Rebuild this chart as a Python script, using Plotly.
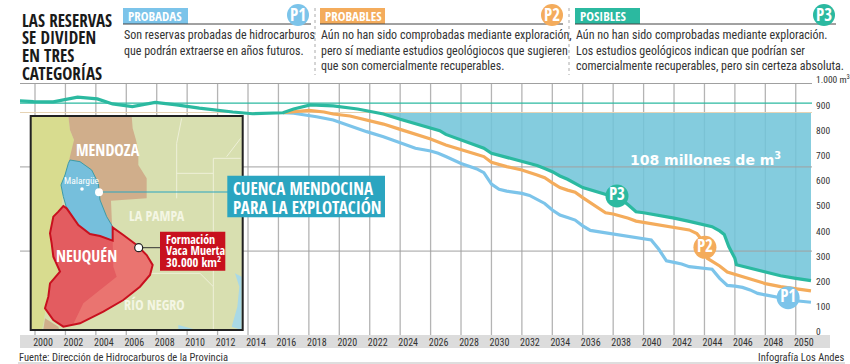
import plotly.graph_objects as go

# ---------- data ----------
p3_years = [1999,1999.9,2001.2,2002.8,2004.1,2005.1,2006.4,2007.9,2009.3,2010.8,2013,2014.3,2016.3,2017,2018.1,2019.6,2021.2,2022.9,
            2024,2026,2026.6,2027,2028,2029,2029.5,2030,2031,2032,2033,2033.5,2034,2034.5,2035,2036,2037,2037.5,2038.5,2039,2039.5,2040,2041,2042,2043,2044,2044.5,2045,2045.3,2045.6,2046,2046.1,2047,2048,2049,2050,2051]
p3_vals = [929,926,925,944,937,917,906,923,913,900,885,878,882,897,913,909,897,877,
           856,823,811,796,774,754,741,721,704,689,673,661,648,631,618,585,566,556,540,516,489,485,476,464,451,439,430,413,399,351,304,279,265,249,235,225,216]

p2_years = [2016.3,2017,2018,2019,2019.6,2020.7,2021.8,2022.9,
            2024,2025,2026,2027,2028,2029,2029.5,2030,2031,2032,2033,2033.5,2034,2034.5,2035,2035.5,2036,2037,2037.5,2038,2038.5,2039,2039.5,2040,2041,2042,2042.5,2043,2043.5,2044,2044.2,2045,2045.5,2046,2047,2048,2049,2050,2051]
p2_vals = [882,886,891,885,877,869,853,837,
           816,796,778,754,734,717,708,685,668,655,635,624,604,585,575,567,545,503,485,480,472,463,452,447,439,430,423,417,403,364,304,274,250,241,224,204,192,183,175]

p1_years = [2016.3,2017,2018.5,2019.6,2021.8,2022.9,
            2024,2025,2026,2026.5,2027,2028,2029,2029.5,2030,2030.5,2031,2032,2032.5,2033,2033.5,2034,2034.5,2035,2035.5,2036,2036.5,2037,2038,2039,2040,2040.5,2041,2041.5,2042,2042.5,2043,2043.5,2044,2044.5,2045,2045.5,2046,2046.5,2047,2047.5,2048,2049,2050,2051]
p1_vals = [882,880,866,853,807,787,
           763,741,730,721,708,681,660,644,599,578,571,562,554,538,522,496,476,466,456,433,415,410,401,390,384,377,340,294,288,282,271,267,265,261,225,197,194,189,179,165,159,146,136,130]

fill_start_year = 2022.4
fill_top_value = 883
ref_line_value = 920
h_grid_values = [333, 667, 998]

x_tick_years = list(range(2000, 2051, 2))
y_tick_vals = [0,100,200,300,400,500,600,700,800,900,1000]
y_tick_text = ["0","100","200","300","400","500","600","700","800","900","1.000 m<sup>3</sup>"]

bubble_labels = ["P1","P2","P3"]
bubble_years = [2049.5, 2044.03, 2038.25]
bubble_vals = [148, 348, 552]

C1, C2, C3 = "#7cc4ea", "#f4ac5c", "#2bb9a0"
FILL = "rgba(112,196,216,0.86)"
NARROW = "Roboto Condensed"
HEAVY = "Open Sans Condensed"

W, H = 850, 364
L, R, T, B = 20, 812, 83, 335
xr = [2000 + (L - 35) / 15.215, 2000 + (R - 35) / 15.215]

fx = lambda x: x / W
fy = lambda y: 1 - y / H

fig = go.Figure()

def hline(v, color, w):
    fig.add_trace(go.Scatter(x=xr, y=[v, v], mode="lines", line=dict(color=color, width=w), showlegend=False))

# vertical grid
for yr in x_tick_years:
    fig.add_trace(go.Scatter(x=[yr, yr], y=[0, 998], mode="lines", line=dict(color="#b4b4b4", width=1.3), showlegend=False))
hline(ref_line_value, C3, 1.2)

fig.add_trace(go.Scatter(
    x=[fill_start_year] + [y for y in p3_years if y > fill_start_year] + [p3_years[-1], fill_start_year],
    y=[fill_top_value] + [v for y, v in zip(p3_years, p3_vals) if y > fill_start_year] + [fill_top_value, fill_top_value],
    fill="toself", fillcolor=FILL, mode="lines", line=dict(width=0), showlegend=False))
hline(fill_top_value, "#e6d3b4", 1.2)
for v in h_grid_values:
    hline(v, "#a0a0a0", 1)

fig.add_trace(go.Scatter(x=p1_years, y=p1_vals, mode="lines", line=dict(color=C1, width=3.2), showlegend=False))
fig.add_trace(go.Scatter(x=p2_years, y=p2_vals, mode="lines", line=dict(color=C2, width=3.2), showlegend=False))
fig.add_trace(go.Scatter(x=p3_years, y=p3_vals, mode="lines", line=dict(color=C3, width=3.2), showlegend=False))
fig.add_trace(go.Scatter(
    x=bubble_years, y=bubble_vals, mode="markers+text", text=bubble_labels, textposition="middle center",
    textfont=dict(family=HEAVY, size=17, color="white"),
    marker=dict(size=23, color=[C1, C2, C3]), showlegend=False))

shapes, ann = [], []

def rect(x0, y0, x1, y1, fill, line=None, lw=0, layer="above"):
    shapes.append(dict(type="rect", xref="paper", yref="paper", x0=fx(x0), y0=fy(y0), x1=fx(x1), y1=fy(y1), fillcolor=fill,
                       line=dict(color=line or fill, width=lw), layer=layer))

def line(x0, y0, x1, y1, color, w=1, dash="solid", layer="above"):
    shapes.append(dict(type="line", xref="paper", yref="paper", x0=fx(x0), y0=fy(y0), x1=fx(x1), y1=fy(y1),
                       line=dict(color=color, width=w, dash=dash), layer=layer))

def circle(cx, cy, r, fill, outline=None, lw=0):
    shapes.append(dict(type="circle", xref="paper", yref="paper", x0=fx(cx-r), y0=fy(cy-r), x1=fx(cx+r), y1=fy(cy+r),
                       fillcolor=fill, line=dict(color=outline or fill, width=lw), layer="above"))

def zpath(zpts, close):
    pts = [(fx(x/3), fy(110 + y/3)) for x, y in zpts]
    return "M" + " L".join(f"{x:.5f},{y:.5f}" for x, y in pts) + (" Z" if close else "")

def poly(zpts, fill, outline=None, lw=0):
    shapes.append(dict(type="path", xref="paper", yref="paper", path=zpath(zpts, True), fillcolor=fill,
                       line=dict(color=outline or fill, width=lw), layer="above"))

def zline(zpts, color="#eef0d8", w=1):
    shapes.append(dict(type="path", xref="paper", yref="paper", path=zpath(zpts, False),
                       line=dict(color=color, width=w), layer="above"))

def text(x, y, s, size=13, color="#222", family=NARROW, anchor="left"):
    ann.append(dict(xref="paper", yref="paper", x=fx(x), y=fy(y), text=s, showarrow=False, xanchor=anchor, yanchor="middle",
                    align=anchor, borderpad=0, font=dict(family=family, size=size, color=color)))

# tick band and rules
rect(L, B, 830, 348, "#dcdcdc", layer="below")
line(18, 363, 845, 363, "#bdbdbd", 1)

# header
for i, s in enumerate(["LAS RESERVAS", "SE DIVIDEN", "EN TRES", "CATEGORÍAS"]):
    text(21, 20 + i*17.7, s, size=17, color="#1a1a1a", family=HEAVY)

heads = [
    (123, 188, 311, 298, C1, "PROBADAS", "P1", ["Son reservas probadas de hidrocarburos", "que podrán extraerse en años futuros."]),
    (320, 385, 563, 552, C2, "PROBABLES", "P2", ["Aún no han sido comprobadas mediante exploración,", "pero sí mediante estudios geológiocos que sugieren", "que son comercialmente recuperables."]),
    (575, 640, 836, 824, C3, "POSIBLES", "P3", ["Aún no han sido comprobadas mediante exploración.", "Los estudios geológicos indican que podrían ser", "comercialmente recuperables, pero sin certeza absoluta."]),
]
for x0, x1, x2, cx, col, name, tag, lines in heads:
    rect(x0, 8, x1, 24, col)
    line(x0, 24, x2, 24, "#444", 1)
    circle(cx, 15, 11, col)
    text(x0 + 4, 16, name, size=13, color="white", family=HEAVY)
    text(cx, 15, tag, size=17, color="white", family=HEAVY, anchor="center")
    for i, s in enumerate(lines):
        text(x0, 35 + i*15.7, s, size=12, color="#333")
line(315, 8, 315, 75, "#aaa", 1, "dot")
line(569, 8, 569, 75, "#aaa", 1, "dot")

# map
rect(30.7, 116, 242.7, 330, "#d8dfb0")
poly([(92,18),(205,18),(210,60),(222,90),(215,150),(190,215),(185,290),(150,370),(160,440),(175,485),(145,550),(130,640),(125,660),(92,660)], "#d8dc8f")
poly([(205,18),(395,18),(398,55),(408,90),(415,120),(415,165),(440,205),(440,265),(333,272),(338,390),(220,300),(205,160),(222,90),(210,60)], "#d0ae8b")
poly([(130,660),(135,625),(175,650),(178,660)], "#d0ae8b")
zline([(545,25),(530,100),(530,265)]); zline([(530,190),(640,190)]); zline([(640,145),(722,145)])
zline([(722,85),(680,140)]); zline([(640,145),(640,530),(600,490),(450,490)]); zline([(640,530),(640,660)])
poly([(705,490),(725,500),(725,660),(695,650),(712,590),(718,530)], "#a9d9e6")
poly([(535,645),(580,657),(580,660),(535,660)], "#a9d9e6")
poly([(210,150),(240,155),(275,180),(295,220),(300,270),(320,320),(338,350),(338,392),(300,378),(270,372),(235,345),(200,295),(190,260),(183,225),(195,195),(205,160)], "#76bfdc", "#3d9ba6", 1)
red_pts = [(190,288),(200,295),(235,345),(270,372),(300,378),(338,392),(338,352),(370,375),(410,405),(440,435),(458,465),(450,495),(420,530),(370,570),(310,605),(240,640),(190,650),(160,630),(135,595),(145,560),(150,520),(180,485),(160,440),(155,400),(150,370),(160,320),(175,305)]
poly(red_pts, "#e35c60")
poly([(338,392),(338,352),(370,375),(410,405),(440,435),(458,465),(450,495),(420,530),(370,570),(310,605),(240,640),(220,642),(250,580),(350,500),(340,470)], "#ea7470")
poly(red_pts, "rgba(0,0,0,0)", "#c8101e", 2)
rect(30.7, 116, 242.7, 330, "rgba(0,0,0,0)", "#222", 2)

text(107.7, 150, "MENDOZA", size=16, color="white", family=HEAVY, anchor="center")
text(157, 215, "LA PAMPA", size=14, color="#f4f6e4", family=HEAVY, anchor="center")
text(86, 255.7, "NEUQUÉN", size=16, color="white", family=HEAVY, anchor="center")
text(154, 304, "RÍO NEGRO", size=14, color="#f4f6e4", family=HEAVY, anchor="center")
text(81.7, 180.7, "Malargüe", size=9.5, color="white", anchor="center")
circle(82, 189, 1.8, "white")

line(99, 192, 228, 192, "#2ba5c0", 1)
circle(99, 192.3, 4, "white")
rect(227.3, 175.7, 385, 217.3, "#2ba5c0")
text(232, 188, "CUENCA MENDOCINA", size=17, color="white", family=HEAVY)
text(232, 207, "PARA LA EXPLOTACIÓN", size=17, color="white", family=HEAVY)

line(139, 247.7, 160, 247.7, "#333", 1)
circle(138.7, 247.7, 4, "white", "#222", 1.2)
rect(160, 231.7, 225.3, 270.7, "#c8101e")
text(165, 239, "Formación", size=12, color="white", family=HEAVY)
text(165, 250, "Vaca Muerta", size=12, color="white", family=HEAVY)
text(165, 262, "30.000 km<sup>2</sup>", size=12.5, color="white", family=HEAVY)

text(705, 159, "<b>108 millones de m<sup>3</sup></b>", size=14, color="white", family="DejaVu Sans", anchor="center")
text(18, 357, "Fuente: Dirección de Hidrocarburos de la Provincia", size=10.5, color="#333")
text(845, 357, "Infografía Los Andes", size=10.5, color="#333", anchor="right")

fig.update_layout(
    width=W, height=H, margin=dict(l=0, r=0, t=0, b=0), paper_bgcolor="white", plot_bgcolor="rgba(0,0,0,0)",
    showlegend=False, hovermode=False, shapes=shapes, annotations=ann,
    font=dict(family=NARROW),
    xaxis=dict(domain=[L/W, R/W], range=xr, tickvals=x_tick_years, ticktext=[str(y) for y in x_tick_years],
               showgrid=False, zeroline=False, showline=False, ticks="",
               ticklabelshift=8, tickfont=dict(family=NARROW, size=10, color="#333"), automargin=False),
    yaxis=dict(domain=[(H-B)/H, (H-T)/H], range=[0, 1000], side="right", tickvals=y_tick_vals, ticktext=y_tick_text,
               showgrid=False, zeroline=False, showline=False, ticks="", ticklabelshift=-3, ticklabelstandoff=3,
               tickfont=dict(family=NARROW, size=9.5, color="#333"), automargin=False),
)

fig.write_html("out.html", config=dict(displayModeBar=False), post_script="document.body.style.margin='0';")
